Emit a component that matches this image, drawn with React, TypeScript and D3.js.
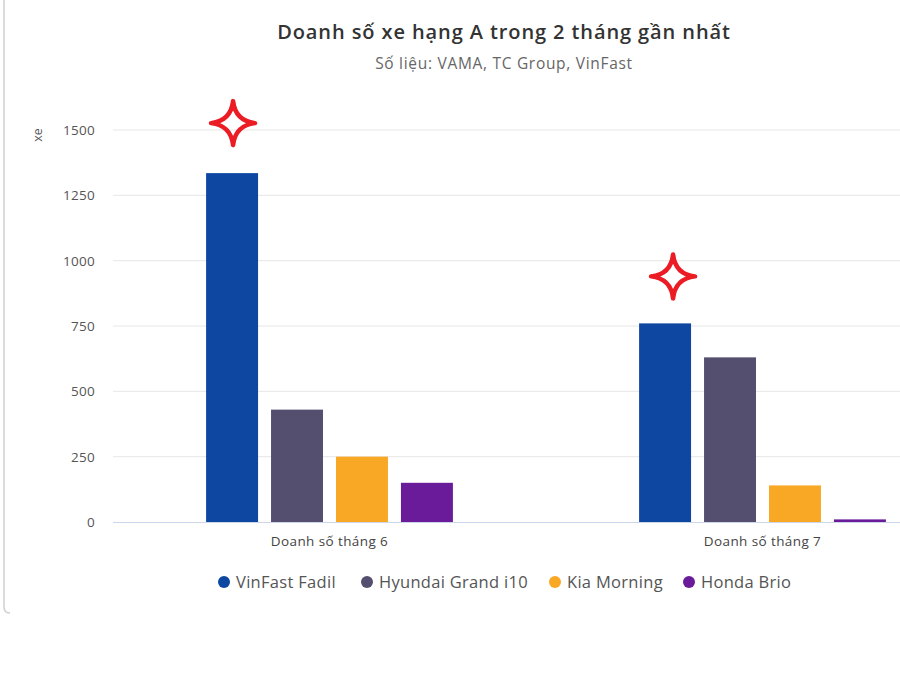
import React from "react";
import * as d3 from "d3";

const categories = ["Doanh số tháng 6", "Doanh số tháng 7"];
const seriesNames = ["VinFast Fadil", "Hyundai Grand i10", "Kia Morning", "Honda Brio"];
const seriesColors = ["#0e47a1", "#544e6f", "#f9a826", "#6a1b9a"];
// values[series][category]
const values = [
  [1335, 760],
  [430, 630],
  [250, 140],
  [150, 10],
];
const yTicks = [0, 250, 500, 750, 1000, 1250, 1500];
// red star marks drawn over the VinFast bars
const starDx = [1, 8];
const starDy = [50, 47];

const W = 900;
const H = 676;
const FONT = "'Open Sans', sans-serif";

// four pointed star outline with concave sides, centred on 0,0
const starPath = (r: number) => {
  const c = r * 0.1;
  const p = d3.path();
  p.moveTo(0, -r);
  p.quadraticCurveTo(c, -c, r, 0);
  p.quadraticCurveTo(c, c, 0, r);
  p.quadraticCurveTo(-c, c, -r, 0);
  p.quadraticCurveTo(-c, -c, 0, -r);
  p.closePath();
  return p.toString();
};

const App: React.FC = () => {
  const plotLeft = 113;
  const plotRight = 979; // chart was cropped on the right
  const y = d3.scaleLinear().domain([0, 1500]).range([522, 130]);
  const x0 = d3.scaleBand().domain(categories).range([plotLeft, plotRight]).paddingInner(0).paddingOuter(0);
  const groupPad = 0.2;
  const x1 = d3
    .scaleBand()
    .domain(seriesNames)
    .range([0, x0.bandwidth() * (1 - 2 * groupPad)])
    .paddingInner(0.2)
    .paddingOuter(0.1);

  const legendX = [224, 367, 555, 689];

  return (
    <svg width={W} height={H} style={{ position: "absolute", left: 0, top: 0, background: "#fff" }}>
      <path d="M4,0 V607 Q4,613 10,613" fill="none" stroke="#cfcfcf" strokeWidth={1.5} />
      <text x={504} y={39} textAnchor="middle" fontFamily={FONT} fontSize={20} fontWeight={600} letterSpacing={0.9} fill="#333">
        Doanh số xe hạng A trong 2 tháng gần nhất
      </text>
      <text x={504} y={69} textAnchor="middle" fontFamily={FONT} fontSize={15.5} letterSpacing={0.7} fill="#666">
        Số liệu: VAMA, TC Group, VinFast
      </text>

      {yTicks.map((t) => (
        <g key={t}>
          {t !== 0 && <line x1={plotLeft} x2={W} y1={y(t)} y2={y(t)} stroke="#e6e6e6" />}
          <text x={95} y={y(t) + 5} textAnchor="end" fontFamily={FONT} fontSize={13.5} letterSpacing={0.3} fill="#555">
            {t}
          </text>
        </g>
      ))}
      <line x1={plotLeft} x2={W} y1={y(0) + 0.5} y2={y(0) + 0.5} stroke="#ccd6eb" />
      <text
        transform={`translate(42,135) rotate(-90)`}
        textAnchor="middle"
        fontFamily={FONT}
        fontSize={12.5}
        fill="#555"
      >
        xe
      </text>

      {categories.map((c, ci) => {
        const gx = (x0(c) as number) + x0.bandwidth() * groupPad;
        return (
          <g key={c}>
            {seriesNames.map((s, si) => {
              const v = values[si][ci];
              const bx = gx + (x1(s) as number);
              return (
                <rect
                  key={s}
                  x={bx}
                  y={y(v)}
                  width={x1.bandwidth()}
                  height={y(0) - y(v)}
                  fill={seriesColors[si]}
                />
              );
            })}
            <text
              x={(x0(c) as number) + x0.bandwidth() / 2}
              y={546}
              textAnchor="middle"
              fontFamily={FONT}
              fontSize={13.5}
              letterSpacing={0.4}
              fill="#444"
            >
              {c}
            </text>
            <path
              d={starPath(22)}
              transform={`translate(${gx + (x1(seriesNames[0]) as number) + x1.bandwidth() / 2 + starDx[ci]},${y(values[0][ci]) - starDy[ci]})`}
              fill="none"
              stroke="#ec1c24"
              strokeWidth={4.5}
              strokeLinejoin="round"
            />
          </g>
        );
      })}

      {seriesNames.map((s, si) => (
        <g key={s} transform={`translate(${legendX[si]},582)`}>
          <circle cx={0} cy={0} r={6} fill={seriesColors[si]} />
          <text x={12} y={6} fontFamily={FONT} fontSize={16.5} letterSpacing={0.3} fill="#555">
            {s}
          </text>
        </g>
      ))}
    </svg>
  );
};

export default App;
